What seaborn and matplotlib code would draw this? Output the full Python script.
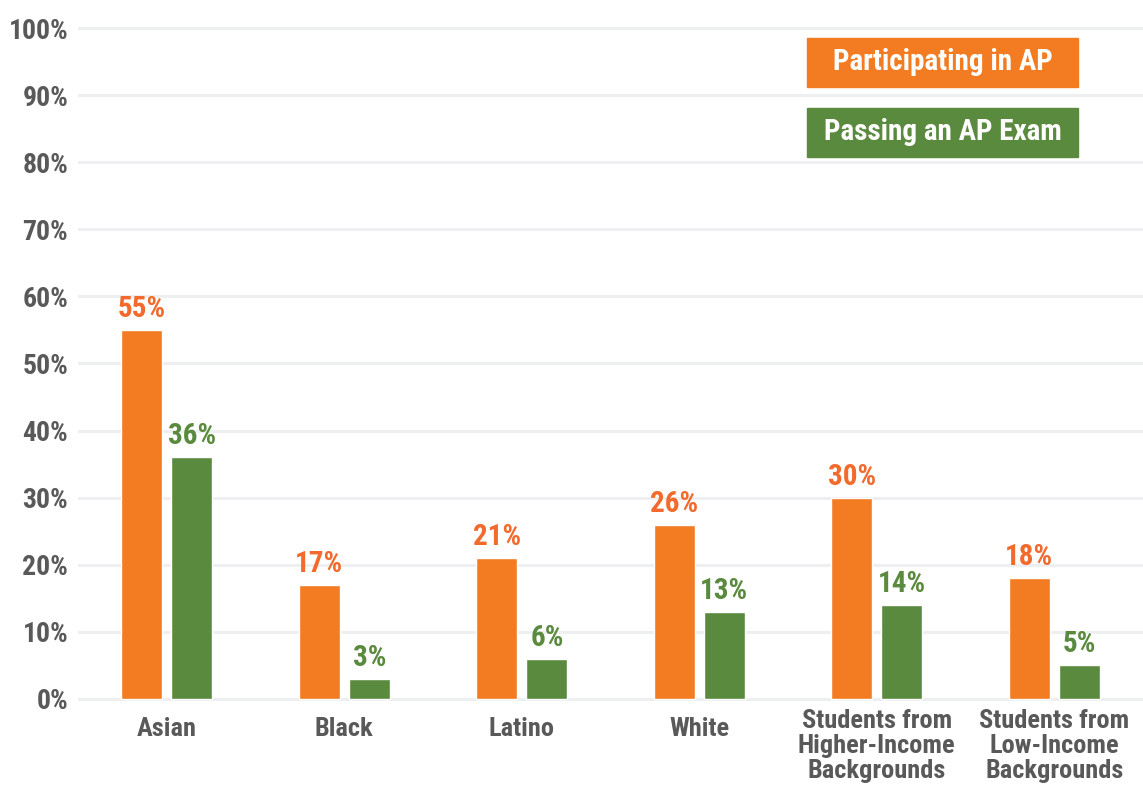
import matplotlib
matplotlib.use("Agg")
import matplotlib.pyplot as plt
from matplotlib.patches import Rectangle
import pandas as pd
import seaborn as sns

# Share of students by group
categories = ["Asian", "Black", "Latino", "White",
              "Students from\nHigher-Income\nBackgrounds",
              "Students from\nLow-Income\nBackgrounds"]
participating = [55, 17, 21, 26, 30, 18]
passing = [36, 3, 6, 13, 14, 5]
series_names = ["Participating in AP", "Passing an AP Exam"]
y_ticks = [0, 10, 20, 30, 40, 50, 60, 70, 80, 90, 100]
y_tick_labels = [f"{t}%" for t in y_ticks]

ORANGE = "#F37C22"
ORANGE_TXT = "#F26A2C"
GREEN = "#5A8A3D"
GRAY_TXT = "#595959"
GRID = "#EEEFF0"

sns.set_style("white")
plt.rcParams["font.family"] = ["Roboto Condensed", "DejaVu Sans"]
plt.rcParams["font.weight"] = "bold"

df = pd.DataFrame({
    "group": categories * 2,
    "series": [series_names[0]] * len(categories) + [series_names[1]] * len(categories),
    "value": participating + passing,
})

fig = plt.figure(figsize=(11.43, 7.86), dpi=100)
ax = fig.add_axes([78 / 1143, 1 - 703 / 786, 1 - 78 / 1143, (703 - 21.3) / 786])

sns.barplot(data=df, x="group", y="value", hue="series", order=categories,
            hue_order=series_names, palette=[ORANGE, GREEN],
            width=0.565, gap=0.18, legend=False, ax=ax, saturation=1)

for container, col in zip(ax.containers, [ORANGE_TXT, GREEN]):
    ax.bar_label(container, fmt="%d%%", padding=5, color=col,
                 fontsize=21, fontweight="bold")

ax.set_xlim(-0.5, len(categories) - 0.5)
ax.set_ylim(-0.6, 101)
ax.set_yticks(y_ticks)
ax.set_yticklabels(y_tick_labels)
ax.set_xlabel("")
ax.set_ylabel("")
ax.yaxis.grid(True, color=GRID, linewidth=2.2)
ax.set_axisbelow(True)
for s in ax.spines.values():
    s.set_visible(False)
ax.tick_params(axis="y", length=0, pad=7, labelsize=20, labelcolor=GRAY_TXT)
ax.tick_params(axis="x", length=0, pad=4, labelsize=19, labelcolor=GRAY_TXT)
for lbl in ax.get_xticklabels():
    lbl.set_fontweight("bold")
    lbl.set_linespacing(1.07)
    # single-line group names sit a little lower than the stacked ones
    if "\n" not in lbl.get_text():
        lbl.set_y(-0.012)
for lbl in ax.get_yticklabels():
    lbl.set_fontweight("bold")

# Legend boxes
W, H = 1143, 786
for (y0, y1), name, col in zip([(38, 87), (108, 157)], series_names, [ORANGE, GREEN]):
    fig.add_artist(Rectangle((807 / W, 1 - y1 / H), 271 / W, (y1 - y0) / H,
                             transform=fig.transFigure, color=col, zorder=5))
    fig.text(942.5 / W, 1 - (y0 + y1) / 2 / H, name, ha="center", va="center",
             color="white", fontsize=21, fontweight="bold", zorder=6)

fig.savefig("out.png", dpi=100)
